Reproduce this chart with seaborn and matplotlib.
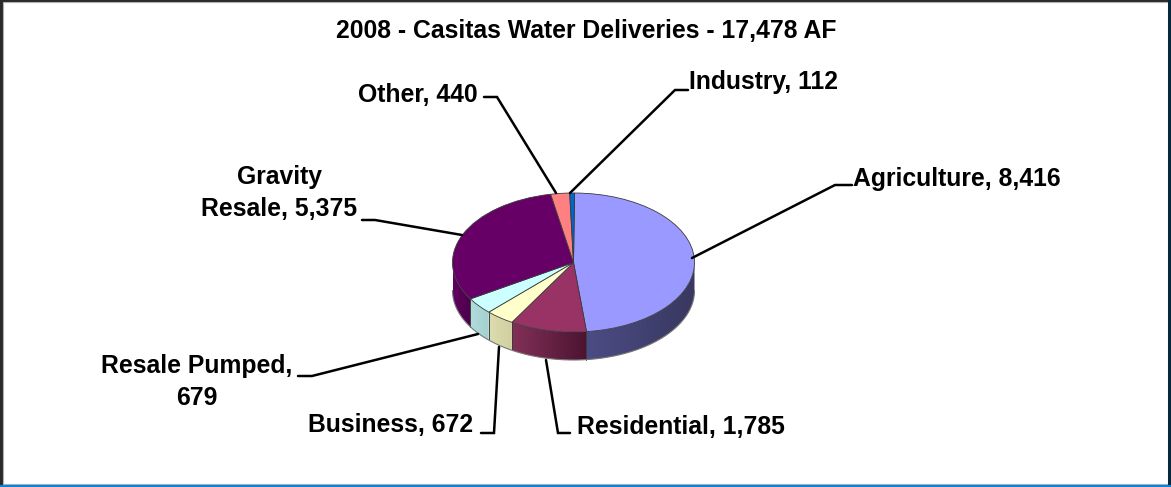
import numpy as np
import matplotlib
matplotlib.use("Agg")
import matplotlib.pyplot as plt
from matplotlib.patches import Rectangle, Polygon
from matplotlib.colors import to_rgb
import seaborn as sns

categories = ["Agriculture", "Residential", "Business", "Resale Pumped", "Gravity Resale", "Other", "Industry"]
values = [8416, 1785, 672, 679, 5375, 440, 112]
title = "2008 - Casitas Water Deliveries - 17,478 AF"
labels = ["Agriculture, 8,416", "Residential, 1,785", "Business, 672", "Resale Pumped,\n679",
          "Gravity\nResale, 5,375", "Other, 440", "Industry, 112"]
top_colors = ["#9999ff", "#993366", "#ffffcc", "#ccffff", "#660066", "#ff8080", "#0066cc"]
wall_left = ["#4c4c85", "#823058", "#dcdcb0", "#b0dcdc", "#600060", "#c06060", "#004c99"]
wall_right = ["#383860", "#4c1430", "#cfcfa0", "#a4d0d0", "#4c004c", "#a05050", "#003c80"]

sns.set_theme(style="white")
plt.rcParams["font.family"] = ["Liberation Sans", "DejaVu Sans"]
plt.rcParams["font.weight"] = "bold"

W, H = 1171, 487
cx, cy, rx, ry, depth = 573.5, 262.5, 121.0, 69.5, 28.0

fig = plt.figure(figsize=(W / 100, H / 100), dpi=100, facecolor="white")
pix = fig.add_axes([0, 0, 1, 1], zorder=1)
pix.set_xlim(0, W)
pix.set_ylim(H, 0)
pix.axis("off")

# frame
pix.add_patch(Rectangle((0, 0), W, H, fc="#2a2a2a", ec="none"))
pix.add_patch(Rectangle((2.5, 2), 1165, 481.5, fc="white", ec="#b0b0b0", lw=0.8))
pix.add_patch(Rectangle((0, 484.5), W, 2.5, fc="#0a84d8", ec="none"))
pix.add_patch(Rectangle((1168, 0), 3, 485, fc="#06283c", ec="none"))

# pie axes, same full-figure box, in ellipse units
ax = fig.add_axes([0, 0, 1, 1], zorder=2, facecolor="none")
palette = sns.color_palette(top_colors)
start = 89.5
ax.pie(values, colors=palette, startangle=start, counterclock=False, radius=1,
       wedgeprops=dict(linewidth=0.6, edgecolor="#3a3a3a"))

# extruded wall along the front of the ellipse, one clipped gradient per slice
d = depth / ry
fr = np.array(values) / sum(values)
edges = np.concatenate([[0], np.cumsum(fr)]) * 360 + (90 - start)
for i in range(len(values)):
    a0, a1 = max(edges[i], 90), min(edges[i + 1], 270)
    if a1 <= a0:
        continue
    t = np.radians(np.linspace(a0, a1, 80))
    x, y = np.sin(t), np.cos(t)
    poly = Polygon(np.r_[np.c_[x, y], np.c_[x[::-1], y[::-1] - d]], closed=True,
                   transform=ax.transData, fc="none", ec="none")
    ax.add_patch(poly)
    cl, cr = np.array(to_rgb(wall_left[i])), np.array(to_rgb(wall_right[i]))
    ramp = np.linspace(0, 1, 64)[:, None]
    grad = (cl[None, :] * (1 - ramp) + cr[None, :] * ramp)[None, :, :]
    im = ax.imshow(grad, extent=[x.min(), x.max(), y.min() - d, y.max()], aspect="auto",
                   origin="lower", interpolation="bilinear", zorder=0.5)
    im.set_clip_path(poly)
    for a in (a0, a1):
        if a in (90, 270):
            continue
        xa, ya = np.sin(np.radians(a)), np.cos(np.radians(a))
        ax.plot([xa, xa], [ya, ya - d], color="#3a3a3a", lw=0.5, zorder=0.6)
t = np.linspace(90, 270, 180)
ax.plot(np.sin(np.radians(t)), np.cos(np.radians(t)) - d, color="#777777", lw=0.8, zorder=0.7)

ax.set_aspect("auto")
ax.set_xlim(-cx / rx, (W - cx) / rx)
ax.set_ylim((cy - H) / ry, cy / ry)
ax.axis("off")

# texts and leaders on top
top = fig.add_axes([0, 0, 1, 1], zorder=3, facecolor="none")
top.set_xlim(0, W)
top.set_ylim(H, 0)
top.axis("off")

fs = 17.8
top.text(586, 31, title, ha="center", va="center", fontsize=fs, fontweight="bold", color="black")
label_pos = [(853, 179, "left"), (577, 427, "left"), (308, 425, "left"), (197, 382, "center"),
             (279, 193, "center"), (358, 95, "left"), (689, 82, "left")]
leaders = [
    [(852, 185), (835, 185), (692, 258)],
    [(570, 433), (558, 433), (546, 360)],
    [(481, 433), (494, 433), (499, 347)],
    [(298, 376), (312, 376), (478, 334)],
    [(362, 220), (375, 220), (462, 235)],
    [(484, 97), (497, 97), (556, 193)],
    [(688, 90), (675, 90), (570, 193)],
]
for lab, (x, y, ha) in zip(labels, label_pos):
    top.text(x, y, lab, ha=ha, va="center", fontsize=fs, fontweight="bold", color="black",
             linespacing=1.42, multialignment="center")
for pts in leaders:
    xs, ys = zip(*pts)
    top.plot(xs, ys, color="black", lw=1.8, solid_joinstyle="miter")

fig.savefig("out.png", dpi=100)
